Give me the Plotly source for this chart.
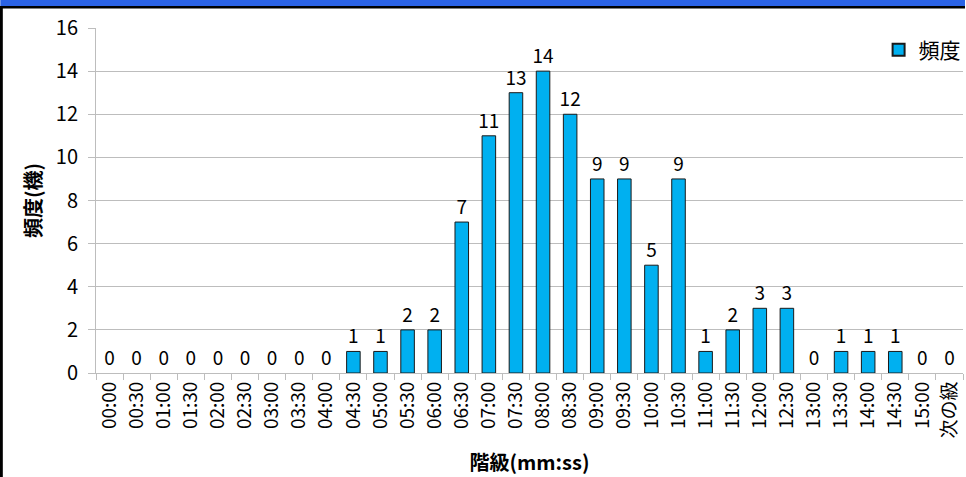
import plotly.graph_objects as go

# 階級 (class intervals) and their frequencies
classes = ["00:00", "00:30", "01:00", "01:30", "02:00", "02:30", "03:00", "03:30",
           "04:00", "04:30", "05:00", "05:30", "06:00", "06:30", "07:00", "07:30",
           "08:00", "08:30", "09:00", "09:30", "10:00", "10:30", "11:00", "11:30",
           "12:00", "12:30", "13:00", "13:30", "14:00", "14:30", "15:00", "次の級"]
freq = [0, 0, 0, 0, 0, 0, 0, 0, 0, 1, 1, 2, 2, 7, 11, 13,
        14, 12, 9, 9, 5, 9, 1, 2, 3, 3, 0, 1, 1, 1, 0, 0]

W, H = 966, 477
L, R, T, B = 96, 0, 28, 104
pw, ph = W - L - R, H - T - B

def px(x):
    return (x - L) / pw

def py(y):
    return (H - B - y) / ph

FONT = "Noto Sans CJK JP"

fig = go.Figure()
fig.add_trace(go.Bar(
    x=classes, y=freq, name="頻度",
    marker=dict(color="#00B0F0",
                line=dict(color="#1a1a1a", width=[1 if v > 0 else 0 for v in freq])),
    width=0.5,
    text=[str(v) for v in freq], textposition="outside",
    textfont=dict(family=FONT, size=19, color="#000"),
    constraintext="none",
    cliponaxis=False,
))

shapes = [
    # blue band and black rule across the top
    dict(type="rect", xref="paper", yref="paper", x0=px(0), x1=px(W + 2), y0=py(6), y1=py(-2),
         fillcolor="#2B63E6", line=dict(width=0), layer="above"),
    dict(type="rect", xref="paper", yref="paper", x0=px(0), x1=px(W + 2), y0=py(8.5), y1=py(6),
         fillcolor="#000", line=dict(width=0), layer="above"),
    # black rule down the left edge
    dict(type="rect", xref="paper", yref="paper", x0=px(-1), x1=px(2.5), y0=py(H + 2), y1=py(6),
         fillcolor="#000", line=dict(width=0), layer="above"),
]

fig.update_layout(
    width=W, height=H,
    margin=dict(l=L, r=R, t=T, b=B),
    paper_bgcolor="white", plot_bgcolor="white",
    font=dict(family=FONT, size=16, color="#000"),
    showlegend=True,
    legend=dict(x=1.003, xanchor="right", y=py(50), yanchor="middle",
                font=dict(family=FONT, size=21), bgcolor="rgba(0,0,0,0)",
                itemwidth=30, itemsizing="constant"),
    shapes=shapes,
    bargap=0.5,
    xaxis=dict(
        type="category", tickson="boundaries", ticks="outside", ticklen=6,
        tickcolor="#bdbdbd", tickangle=-90, showgrid=False,
        showline=True, linecolor="#bdbdbd", linewidth=1,
        tickfont=dict(family=FONT, size=19),
        title=dict(text="<b>階級(mm:ss)</b>", font=dict(family=FONT, size=20), standoff=18),
        range=[-0.5, len(classes) - 0.5],
    ),
    yaxis=dict(
        range=[0, 16], dtick=2, ticks="outside", ticklen=7, tickcolor="#bdbdbd",
        showgrid=True, gridcolor="#bdbdbd", gridwidth=1,
        showline=True, linecolor="#bdbdbd", linewidth=1, zeroline=False,
        tickfont=dict(family=FONT, size=20), ticklabelstandoff=6,
        title=dict(text="<b>頻度(機)</b>", font=dict(family=FONT, size=20), standoff=8),
    ),
)

fig.write_html("out.html")
